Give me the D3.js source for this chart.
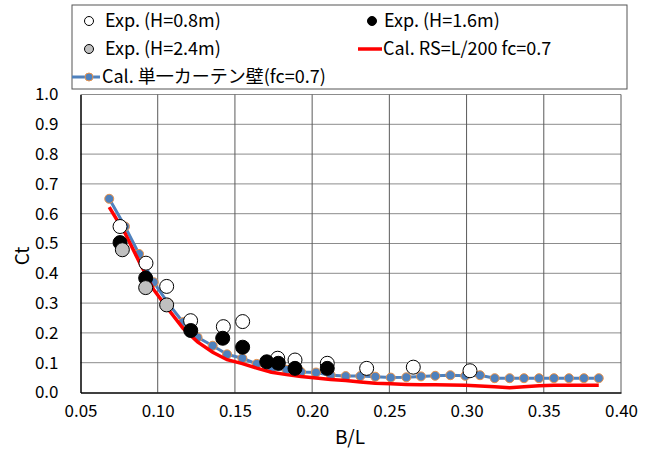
<!DOCTYPE html>
<html>
<head>
<meta charset="utf-8">
<script src="https://cdn.jsdelivr.net/npm/d3@7"></script>
<style>
  body { margin: 0; background: #fff; }
  svg { display: block; font-family: "Noto Sans CJK JP", "Noto Sans", sans-serif; }
</style>
</head>
<body>
<svg id="chart" width="646" height="449"></svg>
<script>
// B/L values shared by both calculation curves
const calX = [0.0686, 0.0788, 0.0879, 0.0974, 0.1067, 0.1164, 0.1258, 0.1356, 0.1449, 0.1548,
  0.1641, 0.1737, 0.1834, 0.1928, 0.2025, 0.2120, 0.2217, 0.2312, 0.2409, 0.2509,
  0.2610, 0.2705, 0.2797, 0.2895, 0.2992, 0.3087, 0.3182, 0.3279, 0.3372, 0.3469,
  0.3566, 0.3663, 0.3760, 0.3856];
const calSingle = [0.650, 0.557, 0.465, 0.370, 0.300, 0.236, 0.185, 0.157, 0.128, 0.115,
  0.096, 0.080, 0.076, 0.069, 0.067, 0.058, 0.055, 0.055, 0.053, 0.050,
  0.051, 0.054, 0.056, 0.058, 0.056, 0.058, 0.048, 0.048, 0.048, 0.048,
  0.048, 0.048, 0.048, 0.048];
const calRS = [0.622, 0.535, 0.440, 0.345, 0.280, 0.215, 0.170, 0.135, 0.110, 0.097,
  0.082, 0.068, 0.060, 0.054, 0.049, 0.044, 0.040, 0.035, 0.031, 0.029,
  0.027, 0.026, 0.026, 0.025, 0.024, 0.022, 0.019, 0.016, 0.019, 0.023,
  0.024, 0.024, 0.024, 0.024];

const exp08X = [0.0756, 0.0924, 0.1058, 0.1213, 0.1425, 0.1550, 0.1777, 0.1889, 0.2098, 0.2353, 0.2655, 0.3022];
const exp08Y = [0.557, 0.434, 0.356, 0.241, 0.221, 0.238, 0.115, 0.109, 0.098, 0.081, 0.085, 0.073];
const exp16X = [0.0756, 0.0922, 0.1214, 0.1421, 0.1550, 0.1706, 0.1781, 0.1889, 0.2098];
const exp16Y = [0.503, 0.384, 0.208, 0.182, 0.152, 0.103, 0.098, 0.081, 0.081];
const exp24X = [0.0771, 0.0922, 0.1058];
const exp24Y = [0.479, 0.352, 0.294];

const xTicks = [0.05, 0.10, 0.15, 0.20, 0.25, 0.30, 0.35, 0.40];
const yTicks = [0, 0.1, 0.2, 0.3, 0.4, 0.5, 0.6, 0.7, 0.8, 0.9, 1.0];

const svg = d3.select("#chart");
const x = d3.scaleLinear().domain([0.05, 0.40]).range([80.5, 621]);
const y = d3.scaleLinear().domain([0, 1]).range([392.5, 94.5]);

// grid
svg.append("g").selectAll("line").data(yTicks.slice(1)).join("line")
  .attr("x1", x(0.05)).attr("x2", x(0.40)).attr("y1", d => y(d)).attr("y2", d => y(d))
  .attr("stroke", "#8c8c8c").attr("stroke-width", 1);
svg.append("g").selectAll("line").data(xTicks.slice(1)).join("line")
  .attr("x1", d => x(d)).attr("x2", d => x(d)).attr("y1", y(0)).attr("y2", y(1))
  .attr("stroke", "#5a5a5a").attr("stroke-width", 1);

// axes
const xAxis = svg.append("g").attr("transform", `translate(0,${y(0)})`)
  .call(d3.axisBottom(x).tickValues(xTicks).tickFormat(d3.format(".2f")).tickSize(0).tickPadding(12));
const yAxis = svg.append("g").attr("transform", `translate(${x(0.05)},0)`)
  .call(d3.axisLeft(y).tickValues(yTicks).tickFormat(d3.format(".1f")).tickSize(0).tickPadding(22));
[xAxis, yAxis].forEach(a => {
  a.select(".domain").attr("stroke", "#000").attr("stroke-width", 1.5);
  a.selectAll("text").attr("font-size", 17).attr("fill", "#000")
    .attr("font-family", "'Noto Sans CJK JP', sans-serif");
});

svg.append("text").attr("x", 350).attr("y", 444).attr("text-anchor", "middle")
  .attr("font-size", 19).text("B/L");
svg.append("text").attr("transform", "translate(29,256) rotate(-90)").attr("text-anchor", "middle")
  .attr("font-size", 19).text("Ct");

// calculation curves
const line = d3.line().x(d => x(d[0])).y(d => y(d[1]));
const single = calX.map((v, i) => [v, calSingle[i]]);
const rs = calX.map((v, i) => [v, calRS[i]]);

svg.append("path").datum(single).attr("d", line).attr("fill", "none")
  .attr("stroke", "#4f81bd").attr("stroke-width", 3);
svg.append("g").selectAll("circle").data(single).join("circle")
  .attr("cx", d => x(d[0])).attr("cy", d => y(d[1])).attr("r", 4.5)
  .attr("fill", "#4f81bd").attr("stroke", "#e9924a").attr("stroke-width", 1);
svg.append("path").datum(rs).attr("d", line).attr("fill", "none")
  .attr("stroke", "#ff0000").attr("stroke-width", 3.5);

// experiments
function drawExp(xs, ys, fill) {
  svg.append("g").selectAll("circle").data(xs).join("circle")
    .attr("cx", d => x(d)).attr("cy", (d, i) => y(ys[i])).attr("r", 7)
    .attr("fill", fill).attr("stroke", "#000").attr("stroke-width", 1);
}
drawExp(exp08X, exp08Y, "#fff");
drawExp(exp16X, exp16Y, "#000");
drawExp(exp24X, exp24Y, "#c0c0c0");

// legend
const lg = svg.append("g");
lg.append("rect").attr("x", 72).attr("y", 5).attr("width", 555).attr("height", 84)
  .attr("fill", "#fff").attr("stroke", "#555").attr("stroke-width", 1);
const rows = [21, 49, 77];
function legText(tx, ty, s) {
  lg.append("text").attr("x", tx).attr("y", ty).attr("dy", "0.35em").attr("font-size", 18).text(s);
}
lg.append("circle").attr("cx", 89).attr("cy", rows[0]).attr("r", 4.5).attr("fill", "#fff").attr("stroke", "#000");
legText(105, rows[0], "Exp. (H=0.8m)");
lg.append("circle").attr("cx", 372).attr("cy", rows[0]).attr("r", 4.5).attr("fill", "#000").attr("stroke", "#000");
legText(384, rows[0], "Exp. (H=1.6m)");
lg.append("circle").attr("cx", 89).attr("cy", rows[1]).attr("r", 4.5).attr("fill", "#c0c0c0").attr("stroke", "#000");
legText(105, rows[1], "Exp. (H=2.4m)");
lg.append("line").attr("x1", 358).attr("x2", 382).attr("y1", rows[1]).attr("y2", rows[1])
  .attr("stroke", "#ff0000").attr("stroke-width", 3.5);
legText(383, rows[1], "Cal. RS=L/200 fc=0.7");
lg.append("line").attr("x1", 72).attr("x2", 100).attr("y1", rows[2]).attr("y2", rows[2])
  .attr("stroke", "#4f81bd").attr("stroke-width", 3);
lg.append("circle").attr("cx", 89).attr("cy", rows[2]).attr("r", 4).attr("fill", "#4f81bd")
  .attr("stroke", "#e9924a");
legText(102, rows[2], "Cal. 単一カーテン壁(fc=0.7)");
</script>
</body>
</html>
